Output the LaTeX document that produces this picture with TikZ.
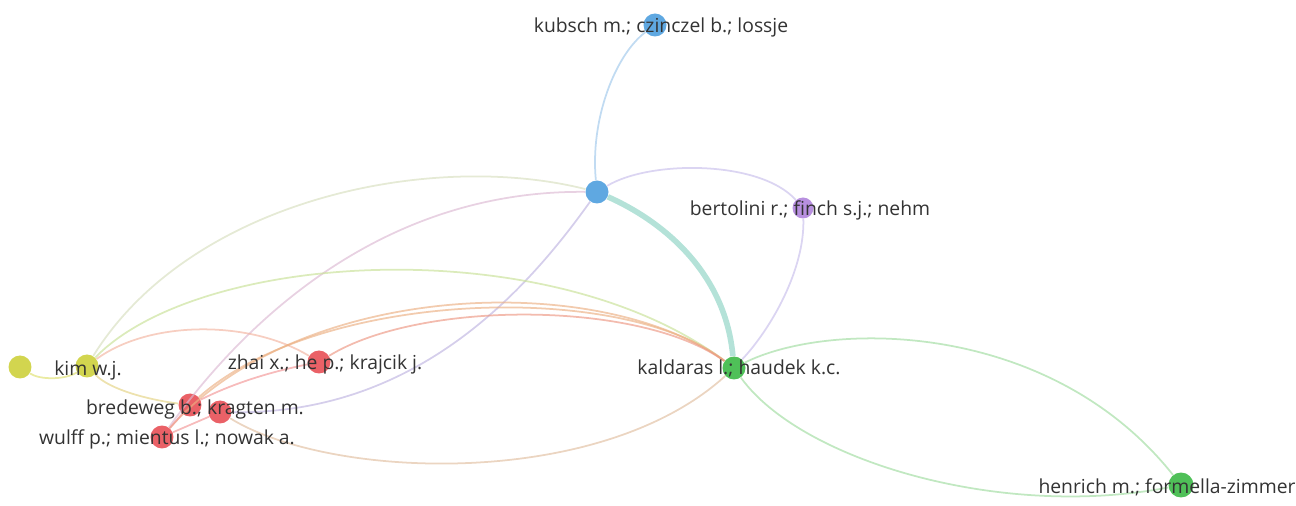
\documentclass[tikz,border=0pt]{standalone}
\usepackage{fontspec}
\setmainfont{Open Sans}
\begin{document}
\begin{tikzpicture}[x = 0.02cm, y = -0.02cm]
\tikzset{dot/.style = {circle, inner sep = 0pt, minimum size = 0.46cm, draw = none, opacity = 0.9}, link/.style = {line width = 1pt, draw opacity = 0.65}, lbl/.style = {text = black!80, font = \fontsize{11}{13}\selectfont, inner sep = 0pt}}
\useasboundingbox (0,0) rectangle (1296,506);
\definecolor{cblue}{RGB}{78,158,222}
\definecolor{cgreen}{RGB}{60,185,70}
\definecolor{cred}{RGB}{232,80,86}
\definecolor{cyellow}{RGB}{205,208,60}
\definecolor{cpurple}{RGB}{176,132,220}
\node [dot, fill = cblue] (kubsch) at (655,25) {};
\node [dot, fill = cblue] (center) at (597,192) {};
\node [dot, fill = cpurple, minimum size = 0.42cm] (bertolini) at (803,208) {};
\node [dot, fill = cgreen] (kaldaras) at (734,368) {};
\node [dot, fill = cgreen, minimum size = 0.5cm] (henrich) at (1181,485) {};
\node [dot, fill = cyellow] (yellow) at (20,367) {};
\node [dot, fill = cyellow] (kim) at (87,366) {};
\node [dot, fill = cred] (zhai) at (319,362) {};
\node [dot, fill = cred] (bredeweg) at (190,405) {};
\node [dot, fill = cred] (kragten) at (220,412) {};
\node [dot, fill = cred] (wulff) at (162,437) {};
\definecolor{linkcolor}{RGB}{160,200,235}
\draw [link, color = linkcolor] (kubsch) .. controls (615,55) and (590,120) .. (center);
\definecolor{linkcolor}{RGB}{140,210,195}
\draw [link, color = linkcolor, line width = 3.2pt] (center) .. controls (660,220) and (725,270) .. (kaldaras);
\definecolor{linkcolor}{RGB}{200,190,235}
\draw [link, color = linkcolor] (center) .. controls (650,160) and (760,160) .. (bertolini);
\draw [link, color = linkcolor] (bertolini) .. controls (805,270) and (770,330) .. (kaldaras);
\definecolor{linkcolor}{RGB}{215,222,190}
\draw [link, color = linkcolor] (kim) .. controls (190,200) and (430,150) .. (center);
\definecolor{linkcolor}{RGB}{220,185,210}
\draw [link, color = linkcolor] (wulff) .. controls (260,300) and (400,190) .. (center);
\definecolor{linkcolor}{RGB}{190,180,225}
\draw [link, color = linkcolor] (kragten) .. controls (410,415) and (520,300) .. (center);
\definecolor{linkcolor}{RGB}{200,225,150}
\draw [link, color = linkcolor] (kim) .. controls (200,250) and (550,230) .. (kaldaras);
\definecolor{linkcolor}{RGB}{242,180,160}
\draw [link, color = linkcolor] (kim) .. controls (150,320) and (250,320) .. (zhai);
\definecolor{linkcolor}{RGB}{228,210,130}
\draw [link, color = linkcolor] (kim) .. controls (110,390) and (150,400) .. (bredeweg);
\definecolor{linkcolor}{RGB}{222,224,110}
\draw [link, color = linkcolor] (yellow) .. controls (40,380) and (65,380) .. (kim);
\definecolor{linkcolor}{RGB}{235,175,130}
\draw [link, color = linkcolor] (wulff) .. controls (300,280) and (600,270) .. (kaldaras);
\draw [link, color = linkcolor] (bredeweg) .. controls (320,290) and (620,280) .. (kaldaras);
\definecolor{linkcolor}{RGB}{236,150,130}
\draw [link, color = linkcolor] (zhai) .. controls (420,300) and (640,300) .. (kaldaras);
\definecolor{linkcolor}{RGB}{242,150,150}
\draw [link, color = linkcolor] (bredeweg) .. controls (240,380) and (280,370) .. (zhai);
\draw [link, color = linkcolor] (wulff) -- (bredeweg);
\draw [link, color = linkcolor] (wulff) -- (kragten);
\definecolor{linkcolor}{RGB}{225,190,160}
\draw [link, color = linkcolor] (kragten) .. controls (330,480) and (600,490) .. (kaldaras);
\definecolor{linkcolor}{RGB}{160,220,160}
\draw [link, color = linkcolor] (kaldaras) .. controls (830,320) and (1050,320) .. (henrich);
\draw [link, color = linkcolor] (kaldaras) .. controls (800,460) and (1000,520) .. (henrich);
\node [lbl] (kubsch-l) at (661,27) {kubsch m.; czinczel b.; lossje};
\node [lbl] (bertolini-l) at (810,210) {bertolini r.; finch s.j.; nehm};
\node [lbl] (kaldaras-l) at (739,368) {kaldaras l.; haudek k.c.};
\node [lbl] (henrich-l) at (1167,487) {henrich m.; formella-zimmer};
\node [lbl] (kim-l) at (88,370) {kim w.j.};
\node [lbl] (zhai-l) at (325,364) {zhai x.; he p.; krajcik j.};
\node [lbl] (bredeweg-l) at (195,409) {bredeweg b.; kragten m.};
\node [lbl] (wulff-l) at (167,439) {wulff p.; mientus l.; nowak a.};
\end{tikzpicture}
\end{document}
